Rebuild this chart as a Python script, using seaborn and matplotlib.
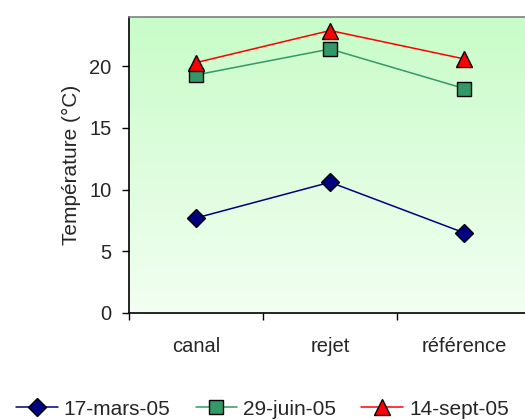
import numpy as np
import pandas as pd
import matplotlib
matplotlib.use("Agg")
import matplotlib.pyplot as plt
from matplotlib.colors import LinearSegmentedColormap
import seaborn as sns

sites = ["canal", "rejet", "référence"]
dates = ["17-mars-05", "29-juin-05", "14-sept-05"]
mars = [7.7, 10.6, 6.5]
juin = [19.3, 21.4, 18.2]
sept = [20.3, 22.9, 20.6]
yticks = [0, 5, 10, 15, 20]

colors = ["#000080", "#339966", "#ff0000"]
markers = ["D", "s", "^"]
sizes = [9, 10.5, 11]

df = pd.DataFrame({
    "site": sites * 3,
    "temp": mars + juin + sept,
    "date": [dates[0]] * 3 + [dates[1]] * 3 + [dates[2]] * 3,
})

sns.set_style("white")
plt.rcParams["font.family"] = ["Liberation Sans", "DejaVu Sans"]

fig = plt.figure(figsize=(5.25, 4.2), dpi=100)
ax = fig.add_axes([0.2457, 0.2548, 0.766, 0.7048])

# green gradient background
cmap = LinearSegmentedColormap.from_list("bg", ["#f2fff2", "#c8fcc8"])
grad = np.linspace(0, 1, 256).reshape(-1, 1)
ax.imshow(grad, aspect="auto", cmap=cmap, origin="lower",
          extent=[-0.5, 2.5, 0, 24], zorder=0)

for d, c, m, s in zip(dates, colors, markers, sizes):
    sub = df[df["date"] == d]
    sns.lineplot(data=sub, x="site", y="temp", color=c, marker=m,
                 markersize=s, markeredgecolor="black", markeredgewidth=1,
                 linewidth=1.1, ax=ax, label=d, zorder=3)

ax.set_xlim(-0.5, 2.5)
ax.set_ylim(0, 24)
ax.set_yticks(yticks)
ax.set_xticks(range(3))
ax.set_xticklabels(sites)
ax.set_xticks([-0.5, 0.5, 1.5, 2.5], minor=True)
ax.tick_params(axis="x", which="major", length=0, pad=17, labelsize=14.5)
ax.tick_params(axis="x", which="minor", length=5, width=1, direction="out",
               bottom=True, color="black")
ax.tick_params(axis="y", length=5, width=1, direction="out", left=True,
               labelsize=14.5, pad=7.5, color="black")
ax.set_xlabel("")
ax.set_ylabel("Température (°C)", fontsize=15, labelpad=6)

for side in ["left", "bottom"]:
    ax.spines[side].set_color("black")
    ax.spines[side].set_linewidth(1.2)
ax.spines["top"].set_color("#808080")
ax.spines["top"].set_linewidth(1.2)
ax.spines["right"].set_visible(False)

handles, labels = ax.get_legend_handles_labels()
ax.get_legend().remove()
fig.legend(handles, labels, loc="center", bbox_to_anchor=(0.5, 0.026),
           ncol=3, frameon=False, fontsize=15, handlelength=2.0,
           handletextpad=0.3, columnspacing=1.2, borderpad=0)

fig.savefig("out.png", dpi=100)
